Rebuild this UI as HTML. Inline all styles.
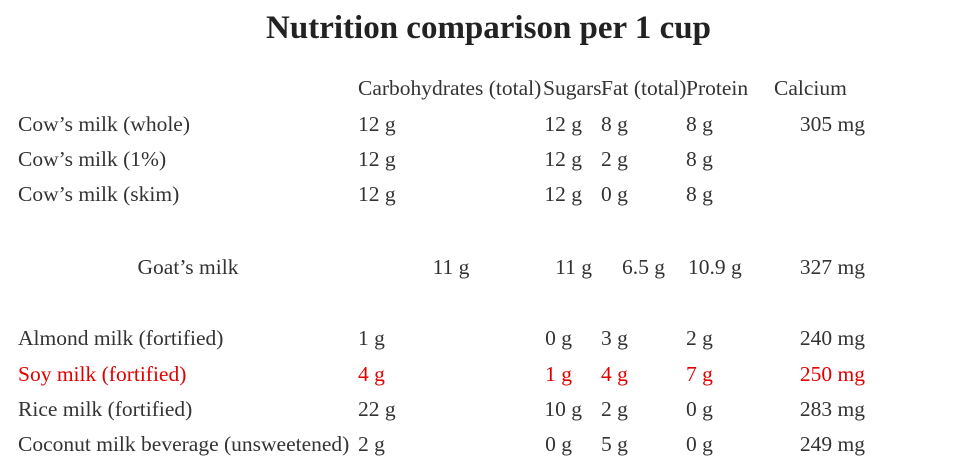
<!DOCTYPE html>
<html><head><meta charset="utf-8"><style>
body{margin:0;width:977px;height:462px;background:#fff;overflow:hidden;position:relative;font-family:"Liberation Serif",serif;color:#333;}
.t{position:absolute;font-size:21.5px;line-height:22px;white-space:nowrap;transform:translateY(-50%);}
.r{transform:translate(-100%,-50%);}
.c{transform:translate(-50%,-50%);}
.red{color:#e00000;}
h1{position:absolute;margin:0;left:0;width:977px;top:10px;text-align:center;font-size:33px;font-weight:bold;color:#222;}
</style></head><body>
<h1>Nutrition comparison per 1 cup</h1>
<div class="t" style="left:358px;top:88px">Carbohydrates (total)</div>
<div class="t" style="left:543px;top:88px">Sugars</div>
<div class="t" style="left:601px;top:88px">Fat (total)</div>
<div class="t" style="left:686px;top:88px">Protein</div>
<div class="t" style="left:774px;top:88px">Calcium</div>

<div class="t" style="left:18px;top:124px">Cow’s milk (whole)</div>
<div class="t" style="left:358px;top:124px">12 g</div>
<div class="t r" style="left:582px;top:124px">12 g</div>
<div class="t" style="left:601px;top:124px">8 g</div>
<div class="t" style="left:686px;top:124px">8 g</div>
<div class="t r" style="left:865px;top:124px">305 mg</div>

<div class="t" style="left:18px;top:159px">Cow’s milk (1%)</div>
<div class="t" style="left:358px;top:159px">12 g</div>
<div class="t r" style="left:582px;top:159px">12 g</div>
<div class="t" style="left:601px;top:159px">2 g</div>
<div class="t" style="left:686px;top:159px">8 g</div>

<div class="t" style="left:18px;top:194px">Cow’s milk (skim)</div>
<div class="t" style="left:358px;top:194px">12 g</div>
<div class="t r" style="left:582px;top:194px">12 g</div>
<div class="t" style="left:601px;top:194px">0 g</div>
<div class="t" style="left:686px;top:194px">8 g</div>

<div class="t c" style="left:188px;top:267px">Goat’s milk</div>
<div class="t c" style="left:451px;top:267px">11 g</div>
<div class="t r" style="left:592px;top:267px">11 g</div>
<div class="t r" style="left:665px;top:267px">6.5 g</div>
<div class="t" style="left:688px;top:267px">10.9 g</div>
<div class="t r" style="left:865px;top:267px">327 mg</div>

<div class="t" style="left:18px;top:338px">Almond milk (fortified)</div>
<div class="t" style="left:358px;top:338px">1 g</div>
<div class="t r" style="left:572px;top:338px">0 g</div>
<div class="t" style="left:601px;top:338px">3 g</div>
<div class="t" style="left:686px;top:338px">2 g</div>
<div class="t r" style="left:865px;top:338px">240 mg</div>

<div class="t red" style="left:18px;top:374px">Soy milk (fortified)</div>
<div class="t red" style="left:358px;top:374px">4 g</div>
<div class="t r red" style="left:572px;top:374px">1 g</div>
<div class="t red" style="left:601px;top:374px">4 g</div>
<div class="t red" style="left:686px;top:374px">7 g</div>
<div class="t r red" style="left:865px;top:374px">250 mg</div>

<div class="t" style="left:18px;top:409px">Rice milk (fortified)</div>
<div class="t" style="left:358px;top:409px">22 g</div>
<div class="t r" style="left:582px;top:409px">10 g</div>
<div class="t" style="left:601px;top:409px">2 g</div>
<div class="t" style="left:686px;top:409px">0 g</div>
<div class="t r" style="left:865px;top:409px">283 mg</div>

<div class="t" style="left:18px;top:444px">Coconut milk beverage (unsweetened)</div>
<div class="t" style="left:358px;top:444px">2 g</div>
<div class="t r" style="left:572px;top:444px">0 g</div>
<div class="t" style="left:601px;top:444px">5 g</div>
<div class="t" style="left:686px;top:444px">0 g</div>
<div class="t r" style="left:865px;top:444px">249 mg</div>
</body></html>
